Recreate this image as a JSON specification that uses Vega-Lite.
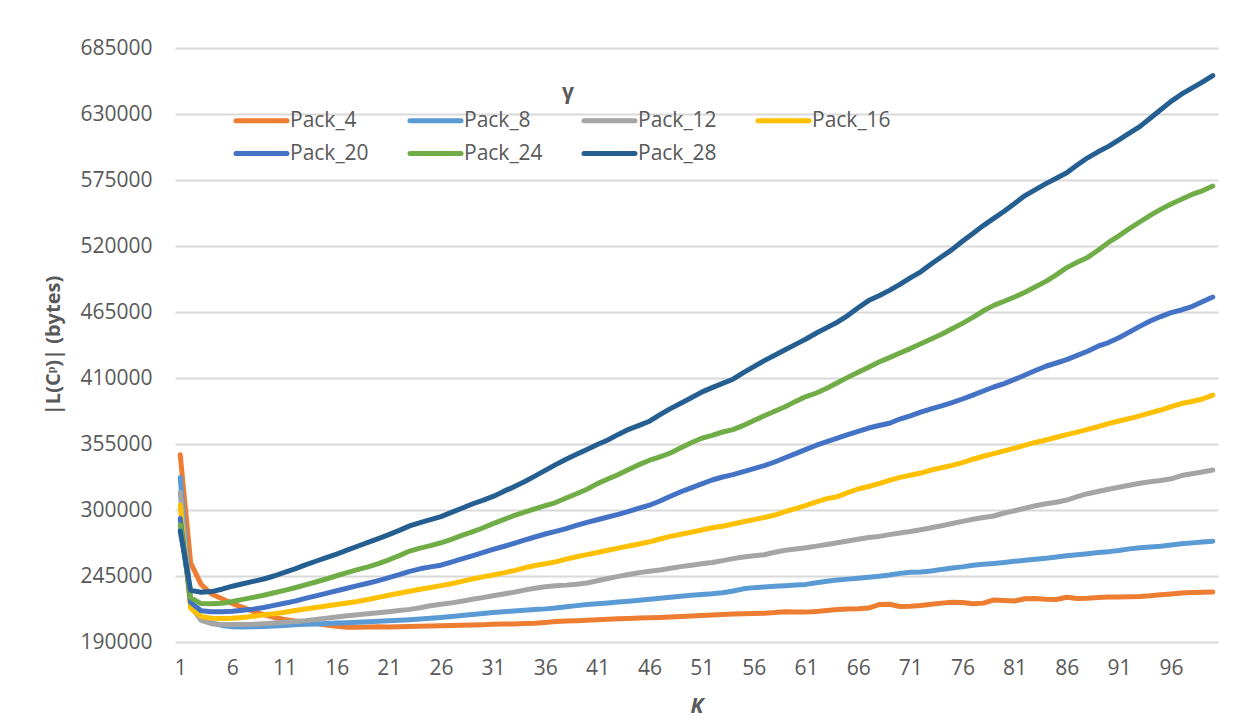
{
  "$schema": "https://vega.github.io/schema/vega-lite/v6.json",
  "width": 1043,
  "height": 594,
  "autosize": "none",
  "padding": {"left": 175, "top": 48, "right": 34, "bottom": 80},
  "background": "white",
  "config": {
    "font": "Open Sans",
    "view": {"stroke": null}
  },
  "data": {"values": [
{"K":1,"gamma":"Pack_4","bytes":346000},{"K":2,"gamma":"Pack_4","bytes":256000},{"K":3,"gamma":"Pack_4","bytes":238000},{"K":4,"gamma":"Pack_4","bytes":230000},{"K":5,"gamma":"Pack_4","bytes":226000},{"K":6,"gamma":"Pack_4","bytes":222000},{"K":7,"gamma":"Pack_4","bytes":218800},{"K":8,"gamma":"Pack_4","bytes":215500},{"K":9,"gamma":"Pack_4","bytes":212800},{"K":10,"gamma":"Pack_4","bytes":210500},
{"K":11,"gamma":"Pack_4","bytes":208700},{"K":12,"gamma":"Pack_4","bytes":207600},{"K":13,"gamma":"Pack_4","bytes":206500},{"K":14,"gamma":"Pack_4","bytes":205300},{"K":15,"gamma":"Pack_4","bytes":204200},{"K":16,"gamma":"Pack_4","bytes":203200},{"K":17,"gamma":"Pack_4","bytes":202300},{"K":18,"gamma":"Pack_4","bytes":202200},{"K":19,"gamma":"Pack_4","bytes":202600},{"K":20,"gamma":"Pack_4","bytes":202700},
{"K":21,"gamma":"Pack_4","bytes":202600},{"K":22,"gamma":"Pack_4","bytes":202700},{"K":23,"gamma":"Pack_4","bytes":202900},{"K":24,"gamma":"Pack_4","bytes":203100},{"K":25,"gamma":"Pack_4","bytes":203300},{"K":26,"gamma":"Pack_4","bytes":203500},{"K":27,"gamma":"Pack_4","bytes":203700},{"K":28,"gamma":"Pack_4","bytes":203900},{"K":29,"gamma":"Pack_4","bytes":204100},{"K":30,"gamma":"Pack_4","bytes":204400},
{"K":31,"gamma":"Pack_4","bytes":204700},{"K":32,"gamma":"Pack_4","bytes":204900},{"K":33,"gamma":"Pack_4","bytes":205100},{"K":34,"gamma":"Pack_4","bytes":205400},{"K":35,"gamma":"Pack_4","bytes":205700},{"K":36,"gamma":"Pack_4","bytes":206300},{"K":37,"gamma":"Pack_4","bytes":207000},{"K":38,"gamma":"Pack_4","bytes":207400},{"K":39,"gamma":"Pack_4","bytes":207800},{"K":40,"gamma":"Pack_4","bytes":208200},
{"K":41,"gamma":"Pack_4","bytes":208600},{"K":42,"gamma":"Pack_4","bytes":209000},{"K":43,"gamma":"Pack_4","bytes":209300},{"K":44,"gamma":"Pack_4","bytes":209600},{"K":45,"gamma":"Pack_4","bytes":209900},{"K":46,"gamma":"Pack_4","bytes":210200},{"K":47,"gamma":"Pack_4","bytes":210500},{"K":48,"gamma":"Pack_4","bytes":210900},{"K":49,"gamma":"Pack_4","bytes":211300},{"K":50,"gamma":"Pack_4","bytes":211700},
{"K":51,"gamma":"Pack_4","bytes":212100},{"K":52,"gamma":"Pack_4","bytes":212500},{"K":53,"gamma":"Pack_4","bytes":212900},{"K":54,"gamma":"Pack_4","bytes":213300},{"K":55,"gamma":"Pack_4","bytes":213600},{"K":56,"gamma":"Pack_4","bytes":213800},{"K":57,"gamma":"Pack_4","bytes":214000},{"K":58,"gamma":"Pack_4","bytes":214500},{"K":59,"gamma":"Pack_4","bytes":215300},{"K":60,"gamma":"Pack_4","bytes":215000},
{"K":61,"gamma":"Pack_4","bytes":214900},{"K":62,"gamma":"Pack_4","bytes":215500},{"K":63,"gamma":"Pack_4","bytes":216200},{"K":64,"gamma":"Pack_4","bytes":217000},{"K":65,"gamma":"Pack_4","bytes":217500},{"K":66,"gamma":"Pack_4","bytes":217800},{"K":67,"gamma":"Pack_4","bytes":218300},{"K":68,"gamma":"Pack_4","bytes":221200},{"K":69,"gamma":"Pack_4","bytes":221500},{"K":70,"gamma":"Pack_4","bytes":219600},
{"K":71,"gamma":"Pack_4","bytes":219700},{"K":72,"gamma":"Pack_4","bytes":220500},{"K":73,"gamma":"Pack_4","bytes":221500},{"K":74,"gamma":"Pack_4","bytes":222400},{"K":75,"gamma":"Pack_4","bytes":223200},{"K":76,"gamma":"Pack_4","bytes":223000},{"K":77,"gamma":"Pack_4","bytes":221800},{"K":78,"gamma":"Pack_4","bytes":222400},{"K":79,"gamma":"Pack_4","bytes":225000},{"K":80,"gamma":"Pack_4","bytes":224600},
{"K":81,"gamma":"Pack_4","bytes":224200},{"K":82,"gamma":"Pack_4","bytes":226000},{"K":83,"gamma":"Pack_4","bytes":226200},{"K":84,"gamma":"Pack_4","bytes":225600},{"K":85,"gamma":"Pack_4","bytes":225400},{"K":86,"gamma":"Pack_4","bytes":227300},{"K":87,"gamma":"Pack_4","bytes":226200},{"K":88,"gamma":"Pack_4","bytes":226500},{"K":89,"gamma":"Pack_4","bytes":227000},{"K":90,"gamma":"Pack_4","bytes":227400},
{"K":91,"gamma":"Pack_4","bytes":227500},{"K":92,"gamma":"Pack_4","bytes":227800},{"K":93,"gamma":"Pack_4","bytes":228000},{"K":94,"gamma":"Pack_4","bytes":228500},{"K":95,"gamma":"Pack_4","bytes":229300},{"K":96,"gamma":"Pack_4","bytes":230000},{"K":97,"gamma":"Pack_4","bytes":230800},{"K":98,"gamma":"Pack_4","bytes":231300},{"K":99,"gamma":"Pack_4","bytes":231500},{"K":100,"gamma":"Pack_4","bytes":231600},
{"K":1,"gamma":"Pack_8","bytes":327000},{"K":2,"gamma":"Pack_8","bytes":222000},{"K":3,"gamma":"Pack_8","bytes":210000},{"K":4,"gamma":"Pack_8","bytes":206000},{"K":5,"gamma":"Pack_8","bytes":203800},{"K":6,"gamma":"Pack_8","bytes":202700},{"K":7,"gamma":"Pack_8","bytes":202500},{"K":8,"gamma":"Pack_8","bytes":202700},{"K":9,"gamma":"Pack_8","bytes":203000},{"K":10,"gamma":"Pack_8","bytes":203400},
{"K":11,"gamma":"Pack_8","bytes":203800},{"K":12,"gamma":"Pack_8","bytes":204300},{"K":13,"gamma":"Pack_8","bytes":204700},{"K":14,"gamma":"Pack_8","bytes":205000},{"K":15,"gamma":"Pack_8","bytes":205400},{"K":16,"gamma":"Pack_8","bytes":205800},{"K":17,"gamma":"Pack_8","bytes":206100},{"K":18,"gamma":"Pack_8","bytes":206500},{"K":19,"gamma":"Pack_8","bytes":206900},{"K":20,"gamma":"Pack_8","bytes":207300},
{"K":21,"gamma":"Pack_8","bytes":207700},{"K":22,"gamma":"Pack_8","bytes":208100},{"K":23,"gamma":"Pack_8","bytes":208600},{"K":24,"gamma":"Pack_8","bytes":209200},{"K":25,"gamma":"Pack_8","bytes":209800},{"K":26,"gamma":"Pack_8","bytes":210500},{"K":27,"gamma":"Pack_8","bytes":211200},{"K":28,"gamma":"Pack_8","bytes":212000},{"K":29,"gamma":"Pack_8","bytes":212900},{"K":30,"gamma":"Pack_8","bytes":213800},
{"K":31,"gamma":"Pack_8","bytes":214600},{"K":32,"gamma":"Pack_8","bytes":215200},{"K":33,"gamma":"Pack_8","bytes":215800},{"K":34,"gamma":"Pack_8","bytes":216400},{"K":35,"gamma":"Pack_8","bytes":217000},{"K":36,"gamma":"Pack_8","bytes":217600},{"K":37,"gamma":"Pack_8","bytes":218400},{"K":38,"gamma":"Pack_8","bytes":219300},{"K":39,"gamma":"Pack_8","bytes":220300},{"K":40,"gamma":"Pack_8","bytes":221200},
{"K":41,"gamma":"Pack_8","bytes":221800},{"K":42,"gamma":"Pack_8","bytes":222500},{"K":43,"gamma":"Pack_8","bytes":223300},{"K":44,"gamma":"Pack_8","bytes":224000},{"K":45,"gamma":"Pack_8","bytes":224800},{"K":46,"gamma":"Pack_8","bytes":225600},{"K":47,"gamma":"Pack_8","bytes":226400},{"K":48,"gamma":"Pack_8","bytes":227300},{"K":49,"gamma":"Pack_8","bytes":228200},{"K":50,"gamma":"Pack_8","bytes":229000},
{"K":51,"gamma":"Pack_8","bytes":229600},{"K":52,"gamma":"Pack_8","bytes":230200},{"K":53,"gamma":"Pack_8","bytes":231000},{"K":54,"gamma":"Pack_8","bytes":232500},{"K":55,"gamma":"Pack_8","bytes":234300},{"K":56,"gamma":"Pack_8","bytes":235300},{"K":57,"gamma":"Pack_8","bytes":235900},{"K":58,"gamma":"Pack_8","bytes":236400},{"K":59,"gamma":"Pack_8","bytes":236900},{"K":60,"gamma":"Pack_8","bytes":237400},
{"K":61,"gamma":"Pack_8","bytes":238000},{"K":62,"gamma":"Pack_8","bytes":239300},{"K":63,"gamma":"Pack_8","bytes":240700},{"K":64,"gamma":"Pack_8","bytes":241600},{"K":65,"gamma":"Pack_8","bytes":242400},{"K":66,"gamma":"Pack_8","bytes":243100},{"K":67,"gamma":"Pack_8","bytes":243900},{"K":68,"gamma":"Pack_8","bytes":244800},{"K":69,"gamma":"Pack_8","bytes":245900},{"K":70,"gamma":"Pack_8","bytes":247200},
{"K":71,"gamma":"Pack_8","bytes":248200},{"K":72,"gamma":"Pack_8","bytes":248300},{"K":73,"gamma":"Pack_8","bytes":249200},{"K":74,"gamma":"Pack_8","bytes":250500},{"K":75,"gamma":"Pack_8","bytes":251600},{"K":76,"gamma":"Pack_8","bytes":252600},{"K":77,"gamma":"Pack_8","bytes":253900},{"K":78,"gamma":"Pack_8","bytes":254800},{"K":79,"gamma":"Pack_8","bytes":255500},{"K":80,"gamma":"Pack_8","bytes":256300},
{"K":81,"gamma":"Pack_8","bytes":257200},{"K":82,"gamma":"Pack_8","bytes":258100},{"K":83,"gamma":"Pack_8","bytes":259000},{"K":84,"gamma":"Pack_8","bytes":259800},{"K":85,"gamma":"Pack_8","bytes":260900},{"K":86,"gamma":"Pack_8","bytes":261900},{"K":87,"gamma":"Pack_8","bytes":262800},{"K":88,"gamma":"Pack_8","bytes":263600},{"K":89,"gamma":"Pack_8","bytes":264500},{"K":90,"gamma":"Pack_8","bytes":265300},
{"K":91,"gamma":"Pack_8","bytes":266300},{"K":92,"gamma":"Pack_8","bytes":267600},{"K":93,"gamma":"Pack_8","bytes":268500},{"K":94,"gamma":"Pack_8","bytes":269100},{"K":95,"gamma":"Pack_8","bytes":269800},{"K":96,"gamma":"Pack_8","bytes":270800},{"K":97,"gamma":"Pack_8","bytes":271800},{"K":98,"gamma":"Pack_8","bytes":272600},{"K":99,"gamma":"Pack_8","bytes":273300},{"K":100,"gamma":"Pack_8","bytes":274000},
{"K":1,"gamma":"Pack_12","bytes":314500},{"K":2,"gamma":"Pack_12","bytes":220000},{"K":3,"gamma":"Pack_12","bytes":208000},{"K":4,"gamma":"Pack_12","bytes":205300},{"K":5,"gamma":"Pack_12","bytes":204600},{"K":6,"gamma":"Pack_12","bytes":204500},{"K":7,"gamma":"Pack_12","bytes":204600},{"K":8,"gamma":"Pack_12","bytes":204800},{"K":9,"gamma":"Pack_12","bytes":205300},{"K":10,"gamma":"Pack_12","bytes":205900},
{"K":11,"gamma":"Pack_12","bytes":206500},{"K":12,"gamma":"Pack_12","bytes":207100},{"K":13,"gamma":"Pack_12","bytes":207800},{"K":14,"gamma":"Pack_12","bytes":208800},{"K":15,"gamma":"Pack_12","bytes":209800},{"K":16,"gamma":"Pack_12","bytes":210800},{"K":17,"gamma":"Pack_12","bytes":211800},{"K":18,"gamma":"Pack_12","bytes":212700},{"K":19,"gamma":"Pack_12","bytes":213500},{"K":20,"gamma":"Pack_12","bytes":214400},
{"K":21,"gamma":"Pack_12","bytes":215300},{"K":22,"gamma":"Pack_12","bytes":216200},{"K":23,"gamma":"Pack_12","bytes":217200},{"K":24,"gamma":"Pack_12","bytes":218600},{"K":25,"gamma":"Pack_12","bytes":220200},{"K":26,"gamma":"Pack_12","bytes":221500},{"K":27,"gamma":"Pack_12","bytes":222600},{"K":28,"gamma":"Pack_12","bytes":224000},{"K":29,"gamma":"Pack_12","bytes":225600},{"K":30,"gamma":"Pack_12","bytes":227000},
{"K":31,"gamma":"Pack_12","bytes":228500},{"K":32,"gamma":"Pack_12","bytes":230000},{"K":33,"gamma":"Pack_12","bytes":231500},{"K":34,"gamma":"Pack_12","bytes":233200},{"K":35,"gamma":"Pack_12","bytes":234800},{"K":36,"gamma":"Pack_12","bytes":236000},{"K":37,"gamma":"Pack_12","bytes":236800},{"K":38,"gamma":"Pack_12","bytes":237400},{"K":39,"gamma":"Pack_12","bytes":238200},{"K":40,"gamma":"Pack_12","bytes":239200},
{"K":41,"gamma":"Pack_12","bytes":241000},{"K":42,"gamma":"Pack_12","bytes":242900},{"K":43,"gamma":"Pack_12","bytes":244700},{"K":44,"gamma":"Pack_12","bytes":246300},{"K":45,"gamma":"Pack_12","bytes":247800},{"K":46,"gamma":"Pack_12","bytes":248900},{"K":47,"gamma":"Pack_12","bytes":250000},{"K":48,"gamma":"Pack_12","bytes":251500},{"K":49,"gamma":"Pack_12","bytes":252800},{"K":50,"gamma":"Pack_12","bytes":254000},
{"K":51,"gamma":"Pack_12","bytes":255200},{"K":52,"gamma":"Pack_12","bytes":256200},{"K":53,"gamma":"Pack_12","bytes":257800},{"K":54,"gamma":"Pack_12","bytes":259500},{"K":55,"gamma":"Pack_12","bytes":260800},{"K":56,"gamma":"Pack_12","bytes":261800},{"K":57,"gamma":"Pack_12","bytes":262700},{"K":58,"gamma":"Pack_12","bytes":264800},{"K":59,"gamma":"Pack_12","bytes":266500},{"K":60,"gamma":"Pack_12","bytes":267500},
{"K":61,"gamma":"Pack_12","bytes":268500},{"K":62,"gamma":"Pack_12","bytes":269900},{"K":63,"gamma":"Pack_12","bytes":271300},{"K":64,"gamma":"Pack_12","bytes":272700},{"K":65,"gamma":"Pack_12","bytes":274100},{"K":66,"gamma":"Pack_12","bytes":275600},{"K":67,"gamma":"Pack_12","bytes":277100},{"K":68,"gamma":"Pack_12","bytes":278000},{"K":69,"gamma":"Pack_12","bytes":279500},{"K":70,"gamma":"Pack_12","bytes":280800},
{"K":71,"gamma":"Pack_12","bytes":282100},{"K":72,"gamma":"Pack_12","bytes":283600},{"K":73,"gamma":"Pack_12","bytes":285200},{"K":74,"gamma":"Pack_12","bytes":286900},{"K":75,"gamma":"Pack_12","bytes":288700},{"K":76,"gamma":"Pack_12","bytes":290500},{"K":77,"gamma":"Pack_12","bytes":292300},{"K":78,"gamma":"Pack_12","bytes":293800},{"K":79,"gamma":"Pack_12","bytes":295000},{"K":80,"gamma":"Pack_12","bytes":297500},
{"K":81,"gamma":"Pack_12","bytes":299400},{"K":82,"gamma":"Pack_12","bytes":301500},{"K":83,"gamma":"Pack_12","bytes":303600},{"K":84,"gamma":"Pack_12","bytes":305200},{"K":85,"gamma":"Pack_12","bytes":306500},{"K":86,"gamma":"Pack_12","bytes":308300},{"K":87,"gamma":"Pack_12","bytes":311200},{"K":88,"gamma":"Pack_12","bytes":313600},{"K":89,"gamma":"Pack_12","bytes":315400},{"K":90,"gamma":"Pack_12","bytes":317300},
{"K":91,"gamma":"Pack_12","bytes":318900},{"K":92,"gamma":"Pack_12","bytes":320600},{"K":93,"gamma":"Pack_12","bytes":322300},{"K":94,"gamma":"Pack_12","bytes":323600},{"K":95,"gamma":"Pack_12","bytes":324600},{"K":96,"gamma":"Pack_12","bytes":326000},{"K":97,"gamma":"Pack_12","bytes":328700},{"K":98,"gamma":"Pack_12","bytes":330200},{"K":99,"gamma":"Pack_12","bytes":331700},{"K":100,"gamma":"Pack_12","bytes":333300},
{"K":1,"gamma":"Pack_16","bytes":304000},{"K":2,"gamma":"Pack_16","bytes":218000},{"K":3,"gamma":"Pack_16","bytes":211200},{"K":4,"gamma":"Pack_16","bytes":209800},{"K":5,"gamma":"Pack_16","bytes":209600},{"K":6,"gamma":"Pack_16","bytes":209700},{"K":7,"gamma":"Pack_16","bytes":210500},{"K":8,"gamma":"Pack_16","bytes":211400},{"K":9,"gamma":"Pack_16","bytes":212600},{"K":10,"gamma":"Pack_16","bytes":213600},
{"K":11,"gamma":"Pack_16","bytes":214800},{"K":12,"gamma":"Pack_16","bytes":216200},{"K":13,"gamma":"Pack_16","bytes":217500},{"K":14,"gamma":"Pack_16","bytes":218800},{"K":15,"gamma":"Pack_16","bytes":220000},{"K":16,"gamma":"Pack_16","bytes":221300},{"K":17,"gamma":"Pack_16","bytes":222500},{"K":18,"gamma":"Pack_16","bytes":223800},{"K":19,"gamma":"Pack_16","bytes":225400},{"K":20,"gamma":"Pack_16","bytes":227200},
{"K":21,"gamma":"Pack_16","bytes":229000},{"K":22,"gamma":"Pack_16","bytes":230600},{"K":23,"gamma":"Pack_16","bytes":232300},{"K":24,"gamma":"Pack_16","bytes":234000},{"K":25,"gamma":"Pack_16","bytes":235400},{"K":26,"gamma":"Pack_16","bytes":237000},{"K":27,"gamma":"Pack_16","bytes":238500},{"K":28,"gamma":"Pack_16","bytes":240500},{"K":29,"gamma":"Pack_16","bytes":242500},{"K":30,"gamma":"Pack_16","bytes":244300},
{"K":31,"gamma":"Pack_16","bytes":245800},{"K":32,"gamma":"Pack_16","bytes":247600},{"K":33,"gamma":"Pack_16","bytes":249500},{"K":34,"gamma":"Pack_16","bytes":251800},{"K":35,"gamma":"Pack_16","bytes":253800},{"K":36,"gamma":"Pack_16","bytes":255200},{"K":37,"gamma":"Pack_16","bytes":256800},{"K":38,"gamma":"Pack_16","bytes":259000},{"K":39,"gamma":"Pack_16","bytes":261000},{"K":40,"gamma":"Pack_16","bytes":262800},
{"K":41,"gamma":"Pack_16","bytes":264600},{"K":42,"gamma":"Pack_16","bytes":266500},{"K":43,"gamma":"Pack_16","bytes":268200},{"K":44,"gamma":"Pack_16","bytes":270000},{"K":45,"gamma":"Pack_16","bytes":271700},{"K":46,"gamma":"Pack_16","bytes":273500},{"K":47,"gamma":"Pack_16","bytes":275800},{"K":48,"gamma":"Pack_16","bytes":278000},{"K":49,"gamma":"Pack_16","bytes":279800},{"K":50,"gamma":"Pack_16","bytes":281500},
{"K":51,"gamma":"Pack_16","bytes":283300},{"K":52,"gamma":"Pack_16","bytes":285200},{"K":53,"gamma":"Pack_16","bytes":286500},{"K":54,"gamma":"Pack_16","bytes":288300},{"K":55,"gamma":"Pack_16","bytes":290200},{"K":56,"gamma":"Pack_16","bytes":292000},{"K":57,"gamma":"Pack_16","bytes":293800},{"K":58,"gamma":"Pack_16","bytes":295800},{"K":59,"gamma":"Pack_16","bytes":298600},{"K":60,"gamma":"Pack_16","bytes":301200},
{"K":61,"gamma":"Pack_16","bytes":303800},{"K":62,"gamma":"Pack_16","bytes":306800},{"K":63,"gamma":"Pack_16","bytes":309500},{"K":64,"gamma":"Pack_16","bytes":311000},{"K":65,"gamma":"Pack_16","bytes":314500},{"K":66,"gamma":"Pack_16","bytes":317500},{"K":67,"gamma":"Pack_16","bytes":319600},{"K":68,"gamma":"Pack_16","bytes":322000},{"K":69,"gamma":"Pack_16","bytes":324700},{"K":70,"gamma":"Pack_16","bytes":327200},
{"K":71,"gamma":"Pack_16","bytes":329000},{"K":72,"gamma":"Pack_16","bytes":330800},{"K":73,"gamma":"Pack_16","bytes":333300},{"K":74,"gamma":"Pack_16","bytes":335200},{"K":75,"gamma":"Pack_16","bytes":337200},{"K":76,"gamma":"Pack_16","bytes":339500},{"K":77,"gamma":"Pack_16","bytes":342300},{"K":78,"gamma":"Pack_16","bytes":344800},{"K":79,"gamma":"Pack_16","bytes":347000},{"K":80,"gamma":"Pack_16","bytes":349300},
{"K":81,"gamma":"Pack_16","bytes":351500},{"K":82,"gamma":"Pack_16","bytes":354000},{"K":83,"gamma":"Pack_16","bytes":356300},{"K":84,"gamma":"Pack_16","bytes":358300},{"K":85,"gamma":"Pack_16","bytes":360600},{"K":86,"gamma":"Pack_16","bytes":362800},{"K":87,"gamma":"Pack_16","bytes":364900},{"K":88,"gamma":"Pack_16","bytes":367200},{"K":89,"gamma":"Pack_16","bytes":369400},{"K":90,"gamma":"Pack_16","bytes":372000},
{"K":91,"gamma":"Pack_16","bytes":374200},{"K":92,"gamma":"Pack_16","bytes":376200},{"K":93,"gamma":"Pack_16","bytes":378500},{"K":94,"gamma":"Pack_16","bytes":381000},{"K":95,"gamma":"Pack_16","bytes":383300},{"K":96,"gamma":"Pack_16","bytes":386200},{"K":97,"gamma":"Pack_16","bytes":388700},{"K":98,"gamma":"Pack_16","bytes":390400},{"K":99,"gamma":"Pack_16","bytes":392500},{"K":100,"gamma":"Pack_16","bytes":395800},
{"K":1,"gamma":"Pack_20","bytes":293000},{"K":2,"gamma":"Pack_20","bytes":223000},{"K":3,"gamma":"Pack_20","bytes":216000},{"K":4,"gamma":"Pack_20","bytes":215300},{"K":5,"gamma":"Pack_20","bytes":215300},{"K":6,"gamma":"Pack_20","bytes":215700},{"K":7,"gamma":"Pack_20","bytes":216500},{"K":8,"gamma":"Pack_20","bytes":217400},{"K":9,"gamma":"Pack_20","bytes":218800},{"K":10,"gamma":"Pack_20","bytes":220500},
{"K":11,"gamma":"Pack_20","bytes":222300},{"K":12,"gamma":"Pack_20","bytes":224100},{"K":13,"gamma":"Pack_20","bytes":226300},{"K":14,"gamma":"Pack_20","bytes":228400},{"K":15,"gamma":"Pack_20","bytes":230500},{"K":16,"gamma":"Pack_20","bytes":232700},{"K":17,"gamma":"Pack_20","bytes":234800},{"K":18,"gamma":"Pack_20","bytes":237000},{"K":19,"gamma":"Pack_20","bytes":239000},{"K":20,"gamma":"Pack_20","bytes":241200},
{"K":21,"gamma":"Pack_20","bytes":243600},{"K":22,"gamma":"Pack_20","bytes":246200},{"K":23,"gamma":"Pack_20","bytes":248800},{"K":24,"gamma":"Pack_20","bytes":251000},{"K":25,"gamma":"Pack_20","bytes":252600},{"K":26,"gamma":"Pack_20","bytes":254000},{"K":27,"gamma":"Pack_20","bytes":256600},{"K":28,"gamma":"Pack_20","bytes":259200},{"K":29,"gamma":"Pack_20","bytes":261700},{"K":30,"gamma":"Pack_20","bytes":264400},
{"K":31,"gamma":"Pack_20","bytes":267100},{"K":32,"gamma":"Pack_20","bytes":269600},{"K":33,"gamma":"Pack_20","bytes":272200},{"K":34,"gamma":"Pack_20","bytes":274900},{"K":35,"gamma":"Pack_20","bytes":277500},{"K":36,"gamma":"Pack_20","bytes":280000},{"K":37,"gamma":"Pack_20","bytes":282200},{"K":38,"gamma":"Pack_20","bytes":284500},{"K":39,"gamma":"Pack_20","bytes":287200},{"K":40,"gamma":"Pack_20","bytes":289700},
{"K":41,"gamma":"Pack_20","bytes":291900},{"K":42,"gamma":"Pack_20","bytes":294200},{"K":43,"gamma":"Pack_20","bytes":296300},{"K":44,"gamma":"Pack_20","bytes":298800},{"K":45,"gamma":"Pack_20","bytes":301500},{"K":46,"gamma":"Pack_20","bytes":304000},{"K":47,"gamma":"Pack_20","bytes":307500},{"K":48,"gamma":"Pack_20","bytes":311500},{"K":49,"gamma":"Pack_20","bytes":315200},{"K":50,"gamma":"Pack_20","bytes":318500},
{"K":51,"gamma":"Pack_20","bytes":321800},{"K":52,"gamma":"Pack_20","bytes":325000},{"K":53,"gamma":"Pack_20","bytes":327500},{"K":54,"gamma":"Pack_20","bytes":329500},{"K":55,"gamma":"Pack_20","bytes":332000},{"K":56,"gamma":"Pack_20","bytes":334500},{"K":57,"gamma":"Pack_20","bytes":337000},{"K":58,"gamma":"Pack_20","bytes":340000},{"K":59,"gamma":"Pack_20","bytes":343500},{"K":60,"gamma":"Pack_20","bytes":347000},
{"K":61,"gamma":"Pack_20","bytes":350500},{"K":62,"gamma":"Pack_20","bytes":354000},{"K":63,"gamma":"Pack_20","bytes":357000},{"K":64,"gamma":"Pack_20","bytes":359800},{"K":65,"gamma":"Pack_20","bytes":362800},{"K":66,"gamma":"Pack_20","bytes":365500},{"K":67,"gamma":"Pack_20","bytes":368300},{"K":68,"gamma":"Pack_20","bytes":370400},{"K":69,"gamma":"Pack_20","bytes":372300},{"K":70,"gamma":"Pack_20","bytes":375800},
{"K":71,"gamma":"Pack_20","bytes":378500},{"K":72,"gamma":"Pack_20","bytes":381500},{"K":73,"gamma":"Pack_20","bytes":384300},{"K":74,"gamma":"Pack_20","bytes":386800},{"K":75,"gamma":"Pack_20","bytes":389500},{"K":76,"gamma":"Pack_20","bytes":392500},{"K":77,"gamma":"Pack_20","bytes":395800},{"K":78,"gamma":"Pack_20","bytes":399200},{"K":79,"gamma":"Pack_20","bytes":402500},{"K":80,"gamma":"Pack_20","bytes":405300},
{"K":81,"gamma":"Pack_20","bytes":408800},{"K":82,"gamma":"Pack_20","bytes":412500},{"K":83,"gamma":"Pack_20","bytes":416200},{"K":84,"gamma":"Pack_20","bytes":419800},{"K":85,"gamma":"Pack_20","bytes":422500},{"K":86,"gamma":"Pack_20","bytes":425300},{"K":87,"gamma":"Pack_20","bytes":428800},{"K":88,"gamma":"Pack_20","bytes":432300},{"K":89,"gamma":"Pack_20","bytes":436500},{"K":90,"gamma":"Pack_20","bytes":439500},
{"K":91,"gamma":"Pack_20","bytes":443500},{"K":92,"gamma":"Pack_20","bytes":448200},{"K":93,"gamma":"Pack_20","bytes":453000},{"K":94,"gamma":"Pack_20","bytes":457500},{"K":95,"gamma":"Pack_20","bytes":461200},{"K":96,"gamma":"Pack_20","bytes":464500},{"K":97,"gamma":"Pack_20","bytes":466700},{"K":98,"gamma":"Pack_20","bytes":469500},{"K":99,"gamma":"Pack_20","bytes":473500},{"K":100,"gamma":"Pack_20","bytes":477500},
{"K":1,"gamma":"Pack_24","bytes":287500},{"K":2,"gamma":"Pack_24","bytes":227000},{"K":3,"gamma":"Pack_24","bytes":222000},{"K":4,"gamma":"Pack_24","bytes":221800},{"K":5,"gamma":"Pack_24","bytes":222300},{"K":6,"gamma":"Pack_24","bytes":223800},{"K":7,"gamma":"Pack_24","bytes":225500},{"K":8,"gamma":"Pack_24","bytes":227200},{"K":9,"gamma":"Pack_24","bytes":229000},{"K":10,"gamma":"Pack_24","bytes":231000},
{"K":11,"gamma":"Pack_24","bytes":233000},{"K":12,"gamma":"Pack_24","bytes":235200},{"K":13,"gamma":"Pack_24","bytes":237600},{"K":14,"gamma":"Pack_24","bytes":240000},{"K":15,"gamma":"Pack_24","bytes":242500},{"K":16,"gamma":"Pack_24","bytes":245200},{"K":17,"gamma":"Pack_24","bytes":247800},{"K":18,"gamma":"Pack_24","bytes":250300},{"K":19,"gamma":"Pack_24","bytes":252600},{"K":20,"gamma":"Pack_24","bytes":255300},
{"K":21,"gamma":"Pack_24","bytes":258500},{"K":22,"gamma":"Pack_24","bytes":262000},{"K":23,"gamma":"Pack_24","bytes":265800},{"K":24,"gamma":"Pack_24","bytes":268200},{"K":25,"gamma":"Pack_24","bytes":270300},{"K":26,"gamma":"Pack_24","bytes":272700},{"K":27,"gamma":"Pack_24","bytes":275500},{"K":28,"gamma":"Pack_24","bytes":278800},{"K":29,"gamma":"Pack_24","bytes":281800},{"K":30,"gamma":"Pack_24","bytes":285000},
{"K":31,"gamma":"Pack_24","bytes":288600},{"K":32,"gamma":"Pack_24","bytes":292000},{"K":33,"gamma":"Pack_24","bytes":295300},{"K":34,"gamma":"Pack_24","bytes":298200},{"K":35,"gamma":"Pack_24","bytes":301000},{"K":36,"gamma":"Pack_24","bytes":303700},{"K":37,"gamma":"Pack_24","bytes":306200},{"K":38,"gamma":"Pack_24","bytes":310000},{"K":39,"gamma":"Pack_24","bytes":313500},{"K":40,"gamma":"Pack_24","bytes":317300},
{"K":41,"gamma":"Pack_24","bytes":322000},{"K":42,"gamma":"Pack_24","bytes":325800},{"K":43,"gamma":"Pack_24","bytes":329500},{"K":44,"gamma":"Pack_24","bytes":333800},{"K":45,"gamma":"Pack_24","bytes":337800},{"K":46,"gamma":"Pack_24","bytes":341500},{"K":47,"gamma":"Pack_24","bytes":344300},{"K":48,"gamma":"Pack_24","bytes":347500},{"K":49,"gamma":"Pack_24","bytes":351800},{"K":50,"gamma":"Pack_24","bytes":356000},
{"K":51,"gamma":"Pack_24","bytes":359800},{"K":52,"gamma":"Pack_24","bytes":362200},{"K":53,"gamma":"Pack_24","bytes":365000},{"K":54,"gamma":"Pack_24","bytes":367000},{"K":55,"gamma":"Pack_24","bytes":370500},{"K":56,"gamma":"Pack_24","bytes":374500},{"K":57,"gamma":"Pack_24","bytes":378500},{"K":58,"gamma":"Pack_24","bytes":382300},{"K":59,"gamma":"Pack_24","bytes":386000},{"K":60,"gamma":"Pack_24","bytes":390500},
{"K":61,"gamma":"Pack_24","bytes":394500},{"K":62,"gamma":"Pack_24","bytes":397500},{"K":63,"gamma":"Pack_24","bytes":401500},{"K":64,"gamma":"Pack_24","bytes":406000},{"K":65,"gamma":"Pack_24","bytes":410500},{"K":66,"gamma":"Pack_24","bytes":414800},{"K":67,"gamma":"Pack_24","bytes":419000},{"K":68,"gamma":"Pack_24","bytes":423300},{"K":69,"gamma":"Pack_24","bytes":427000},{"K":70,"gamma":"Pack_24","bytes":430800},
{"K":71,"gamma":"Pack_24","bytes":434500},{"K":72,"gamma":"Pack_24","bytes":438500},{"K":73,"gamma":"Pack_24","bytes":442500},{"K":74,"gamma":"Pack_24","bytes":446500},{"K":75,"gamma":"Pack_24","bytes":451000},{"K":76,"gamma":"Pack_24","bytes":455500},{"K":77,"gamma":"Pack_24","bytes":460500},{"K":78,"gamma":"Pack_24","bytes":466000},{"K":79,"gamma":"Pack_24","bytes":470500},{"K":80,"gamma":"Pack_24","bytes":474000},
{"K":81,"gamma":"Pack_24","bytes":477500},{"K":82,"gamma":"Pack_24","bytes":481500},{"K":83,"gamma":"Pack_24","bytes":486000},{"K":84,"gamma":"Pack_24","bytes":490500},{"K":85,"gamma":"Pack_24","bytes":496000},{"K":86,"gamma":"Pack_24","bytes":502000},{"K":87,"gamma":"Pack_24","bytes":506500},{"K":88,"gamma":"Pack_24","bytes":510500},{"K":89,"gamma":"Pack_24","bytes":516500},{"K":90,"gamma":"Pack_24","bytes":523000},
{"K":91,"gamma":"Pack_24","bytes":528500},{"K":92,"gamma":"Pack_24","bytes":534500},{"K":93,"gamma":"Pack_24","bytes":540000},{"K":94,"gamma":"Pack_24","bytes":545500},{"K":95,"gamma":"Pack_24","bytes":550500},{"K":96,"gamma":"Pack_24","bytes":555000},{"K":97,"gamma":"Pack_24","bytes":559000},{"K":98,"gamma":"Pack_24","bytes":563000},{"K":99,"gamma":"Pack_24","bytes":566000},{"K":100,"gamma":"Pack_24","bytes":570000},
{"K":1,"gamma":"Pack_28","bytes":282500},{"K":2,"gamma":"Pack_28","bytes":233000},{"K":3,"gamma":"Pack_28","bytes":231500},{"K":4,"gamma":"Pack_28","bytes":232000},{"K":5,"gamma":"Pack_28","bytes":234000},{"K":6,"gamma":"Pack_28","bytes":236500},{"K":7,"gamma":"Pack_28","bytes":238500},{"K":8,"gamma":"Pack_28","bytes":240500},{"K":9,"gamma":"Pack_28","bytes":242500},{"K":10,"gamma":"Pack_28","bytes":245000},
{"K":11,"gamma":"Pack_28","bytes":248000},{"K":12,"gamma":"Pack_28","bytes":251000},{"K":13,"gamma":"Pack_28","bytes":254300},{"K":14,"gamma":"Pack_28","bytes":257300},{"K":15,"gamma":"Pack_28","bytes":260300},{"K":16,"gamma":"Pack_28","bytes":263300},{"K":17,"gamma":"Pack_28","bytes":266500},{"K":18,"gamma":"Pack_28","bytes":269800},{"K":19,"gamma":"Pack_28","bytes":273000},{"K":20,"gamma":"Pack_28","bytes":276200},
{"K":21,"gamma":"Pack_28","bytes":279500},{"K":22,"gamma":"Pack_28","bytes":283000},{"K":23,"gamma":"Pack_28","bytes":286800},{"K":24,"gamma":"Pack_28","bytes":289500},{"K":25,"gamma":"Pack_28","bytes":292000},{"K":26,"gamma":"Pack_28","bytes":294500},{"K":27,"gamma":"Pack_28","bytes":298000},{"K":28,"gamma":"Pack_28","bytes":301500},{"K":29,"gamma":"Pack_28","bytes":305000},{"K":30,"gamma":"Pack_28","bytes":308000},
{"K":31,"gamma":"Pack_28","bytes":311300},{"K":32,"gamma":"Pack_28","bytes":315500},{"K":33,"gamma":"Pack_28","bytes":319300},{"K":34,"gamma":"Pack_28","bytes":323500},{"K":35,"gamma":"Pack_28","bytes":328200},{"K":36,"gamma":"Pack_28","bytes":333000},{"K":37,"gamma":"Pack_28","bytes":337800},{"K":38,"gamma":"Pack_28","bytes":342300},{"K":39,"gamma":"Pack_28","bytes":346500},{"K":40,"gamma":"Pack_28","bytes":350500},
{"K":41,"gamma":"Pack_28","bytes":354500},{"K":42,"gamma":"Pack_28","bytes":358400},{"K":43,"gamma":"Pack_28","bytes":363000},{"K":44,"gamma":"Pack_28","bytes":367200},{"K":45,"gamma":"Pack_28","bytes":370500},{"K":46,"gamma":"Pack_28","bytes":374000},{"K":47,"gamma":"Pack_28","bytes":379500},{"K":48,"gamma":"Pack_28","bytes":384500},{"K":49,"gamma":"Pack_28","bytes":389000},{"K":50,"gamma":"Pack_28","bytes":393500},
{"K":51,"gamma":"Pack_28","bytes":398200},{"K":52,"gamma":"Pack_28","bytes":402000},{"K":53,"gamma":"Pack_28","bytes":405500},{"K":54,"gamma":"Pack_28","bytes":409000},{"K":55,"gamma":"Pack_28","bytes":414500},{"K":56,"gamma":"Pack_28","bytes":419500},{"K":57,"gamma":"Pack_28","bytes":424500},{"K":58,"gamma":"Pack_28","bytes":429000},{"K":59,"gamma":"Pack_28","bytes":433500},{"K":60,"gamma":"Pack_28","bytes":438000},
{"K":61,"gamma":"Pack_28","bytes":442500},{"K":62,"gamma":"Pack_28","bytes":447500},{"K":63,"gamma":"Pack_28","bytes":452000},{"K":64,"gamma":"Pack_28","bytes":456500},{"K":65,"gamma":"Pack_28","bytes":462000},{"K":66,"gamma":"Pack_28","bytes":468500},{"K":67,"gamma":"Pack_28","bytes":474500},{"K":68,"gamma":"Pack_28","bytes":478500},{"K":69,"gamma":"Pack_28","bytes":483000},{"K":70,"gamma":"Pack_28","bytes":488000},
{"K":71,"gamma":"Pack_28","bytes":493500},{"K":72,"gamma":"Pack_28","bytes":498500},{"K":73,"gamma":"Pack_28","bytes":505000},{"K":74,"gamma":"Pack_28","bytes":511000},{"K":75,"gamma":"Pack_28","bytes":517000},{"K":76,"gamma":"Pack_28","bytes":524000},{"K":77,"gamma":"Pack_28","bytes":530500},{"K":78,"gamma":"Pack_28","bytes":537000},{"K":79,"gamma":"Pack_28","bytes":543000},{"K":80,"gamma":"Pack_28","bytes":549000},
{"K":81,"gamma":"Pack_28","bytes":555500},{"K":82,"gamma":"Pack_28","bytes":562000},{"K":83,"gamma":"Pack_28","bytes":567000},{"K":84,"gamma":"Pack_28","bytes":572000},{"K":85,"gamma":"Pack_28","bytes":576500},{"K":86,"gamma":"Pack_28","bytes":581000},{"K":87,"gamma":"Pack_28","bytes":587500},{"K":88,"gamma":"Pack_28","bytes":593500},{"K":89,"gamma":"Pack_28","bytes":598500},{"K":90,"gamma":"Pack_28","bytes":603000},
{"K":91,"gamma":"Pack_28","bytes":608500},{"K":92,"gamma":"Pack_28","bytes":614000},{"K":93,"gamma":"Pack_28","bytes":619500},{"K":94,"gamma":"Pack_28","bytes":626500},{"K":95,"gamma":"Pack_28","bytes":633500},{"K":96,"gamma":"Pack_28","bytes":640500},{"K":97,"gamma":"Pack_28","bytes":646500},{"K":98,"gamma":"Pack_28","bytes":651500},{"K":99,"gamma":"Pack_28","bytes":656500},{"K":100,"gamma":"Pack_28","bytes":662000}
  ]},
  "mark": {"type": "line", "strokeWidth": 5, "strokeCap": "round", "strokeJoin": "round"},
  "encoding": {
    "x": {
      "field": "K", "type": "quantitative",
      "scale": {"domain": [0.5, 100.5], "nice": false, "zero": false},
      "axis": {
        "values": [1, 6, 11, 16, 21, 26, 31, 36, 41, 46, 51, 56, 61, 66, 71, 76, 81, 86, 91, 96],
        "grid": false, "domain": false, "ticks": false, "tickSize": 0,
        "labelPadding": 15, "labelFontSize": 21, "labelColor": "#595959", "labelFont": "Open Sans",
        "title": "K", "titleFontSize": 21, "titleFontWeight": "bold", "titleFontStyle": "italic",
        "titleColor": "#595959", "titleFont": "Open Sans", "titlePadding": 17
      }
    },
    "y": {
      "field": "bytes", "type": "quantitative",
      "scale": {"domain": [190000, 685000], "nice": false, "zero": false},
      "axis": {
        "values": [190000, 245000, 300000, 355000, 410000, 465000, 520000, 575000, 630000, 685000],
        "format": "d", "grid": true, "gridColor": "#d9d9d9", "gridWidth": 2,
        "domain": false, "ticks": false, "tickSize": 0,
        "labelPadding": 23, "labelFontSize": 21, "labelColor": "#595959", "labelFont": "Open Sans",
        "title": "|L(Cᵖ)| (bytes)", "titleFontSize": 20, "titleFontWeight": "bold",
        "titleColor": "#595959", "titleFont": "Open Sans", "titlePadding": 16
      }
    },
    "color": {
      "field": "gamma", "type": "nominal",
      "scale": {
        "domain": ["Pack_4", "Pack_8", "Pack_12", "Pack_16", "Pack_20", "Pack_24", "Pack_28"],
        "range": ["#ED7D31", "#5B9BD5", "#A5A5A5", "#FFC000", "#4472C4", "#70AD47", "#255E91"]
      },
      "legend": {
        "title": "γ", "orient": "none", "legendX": 71, "legendY": 34, "columns": 4,
        "direction": "horizontal", "gridAlign": "all",
        "titleAnchor": "middle", "titleFontSize": 21, "titleFontWeight": "bold", "titleColor": "#595959",
        "titleFont": "Open Sans", "titlePadding": 2,
        "symbolType": "M-2,0H2", "symbolSize": 650, "symbolStrokeWidth": 5,
        "labelFontSize": 21, "labelColor": "#595959", "labelFont": "Open Sans", "labelOffset": 13,
        "columnPadding": 31, "rowPadding": 7,
        "encode": {"symbols": {"update": {"strokeCap": {"value": "round"}}}}
      }
    }
  }
}
